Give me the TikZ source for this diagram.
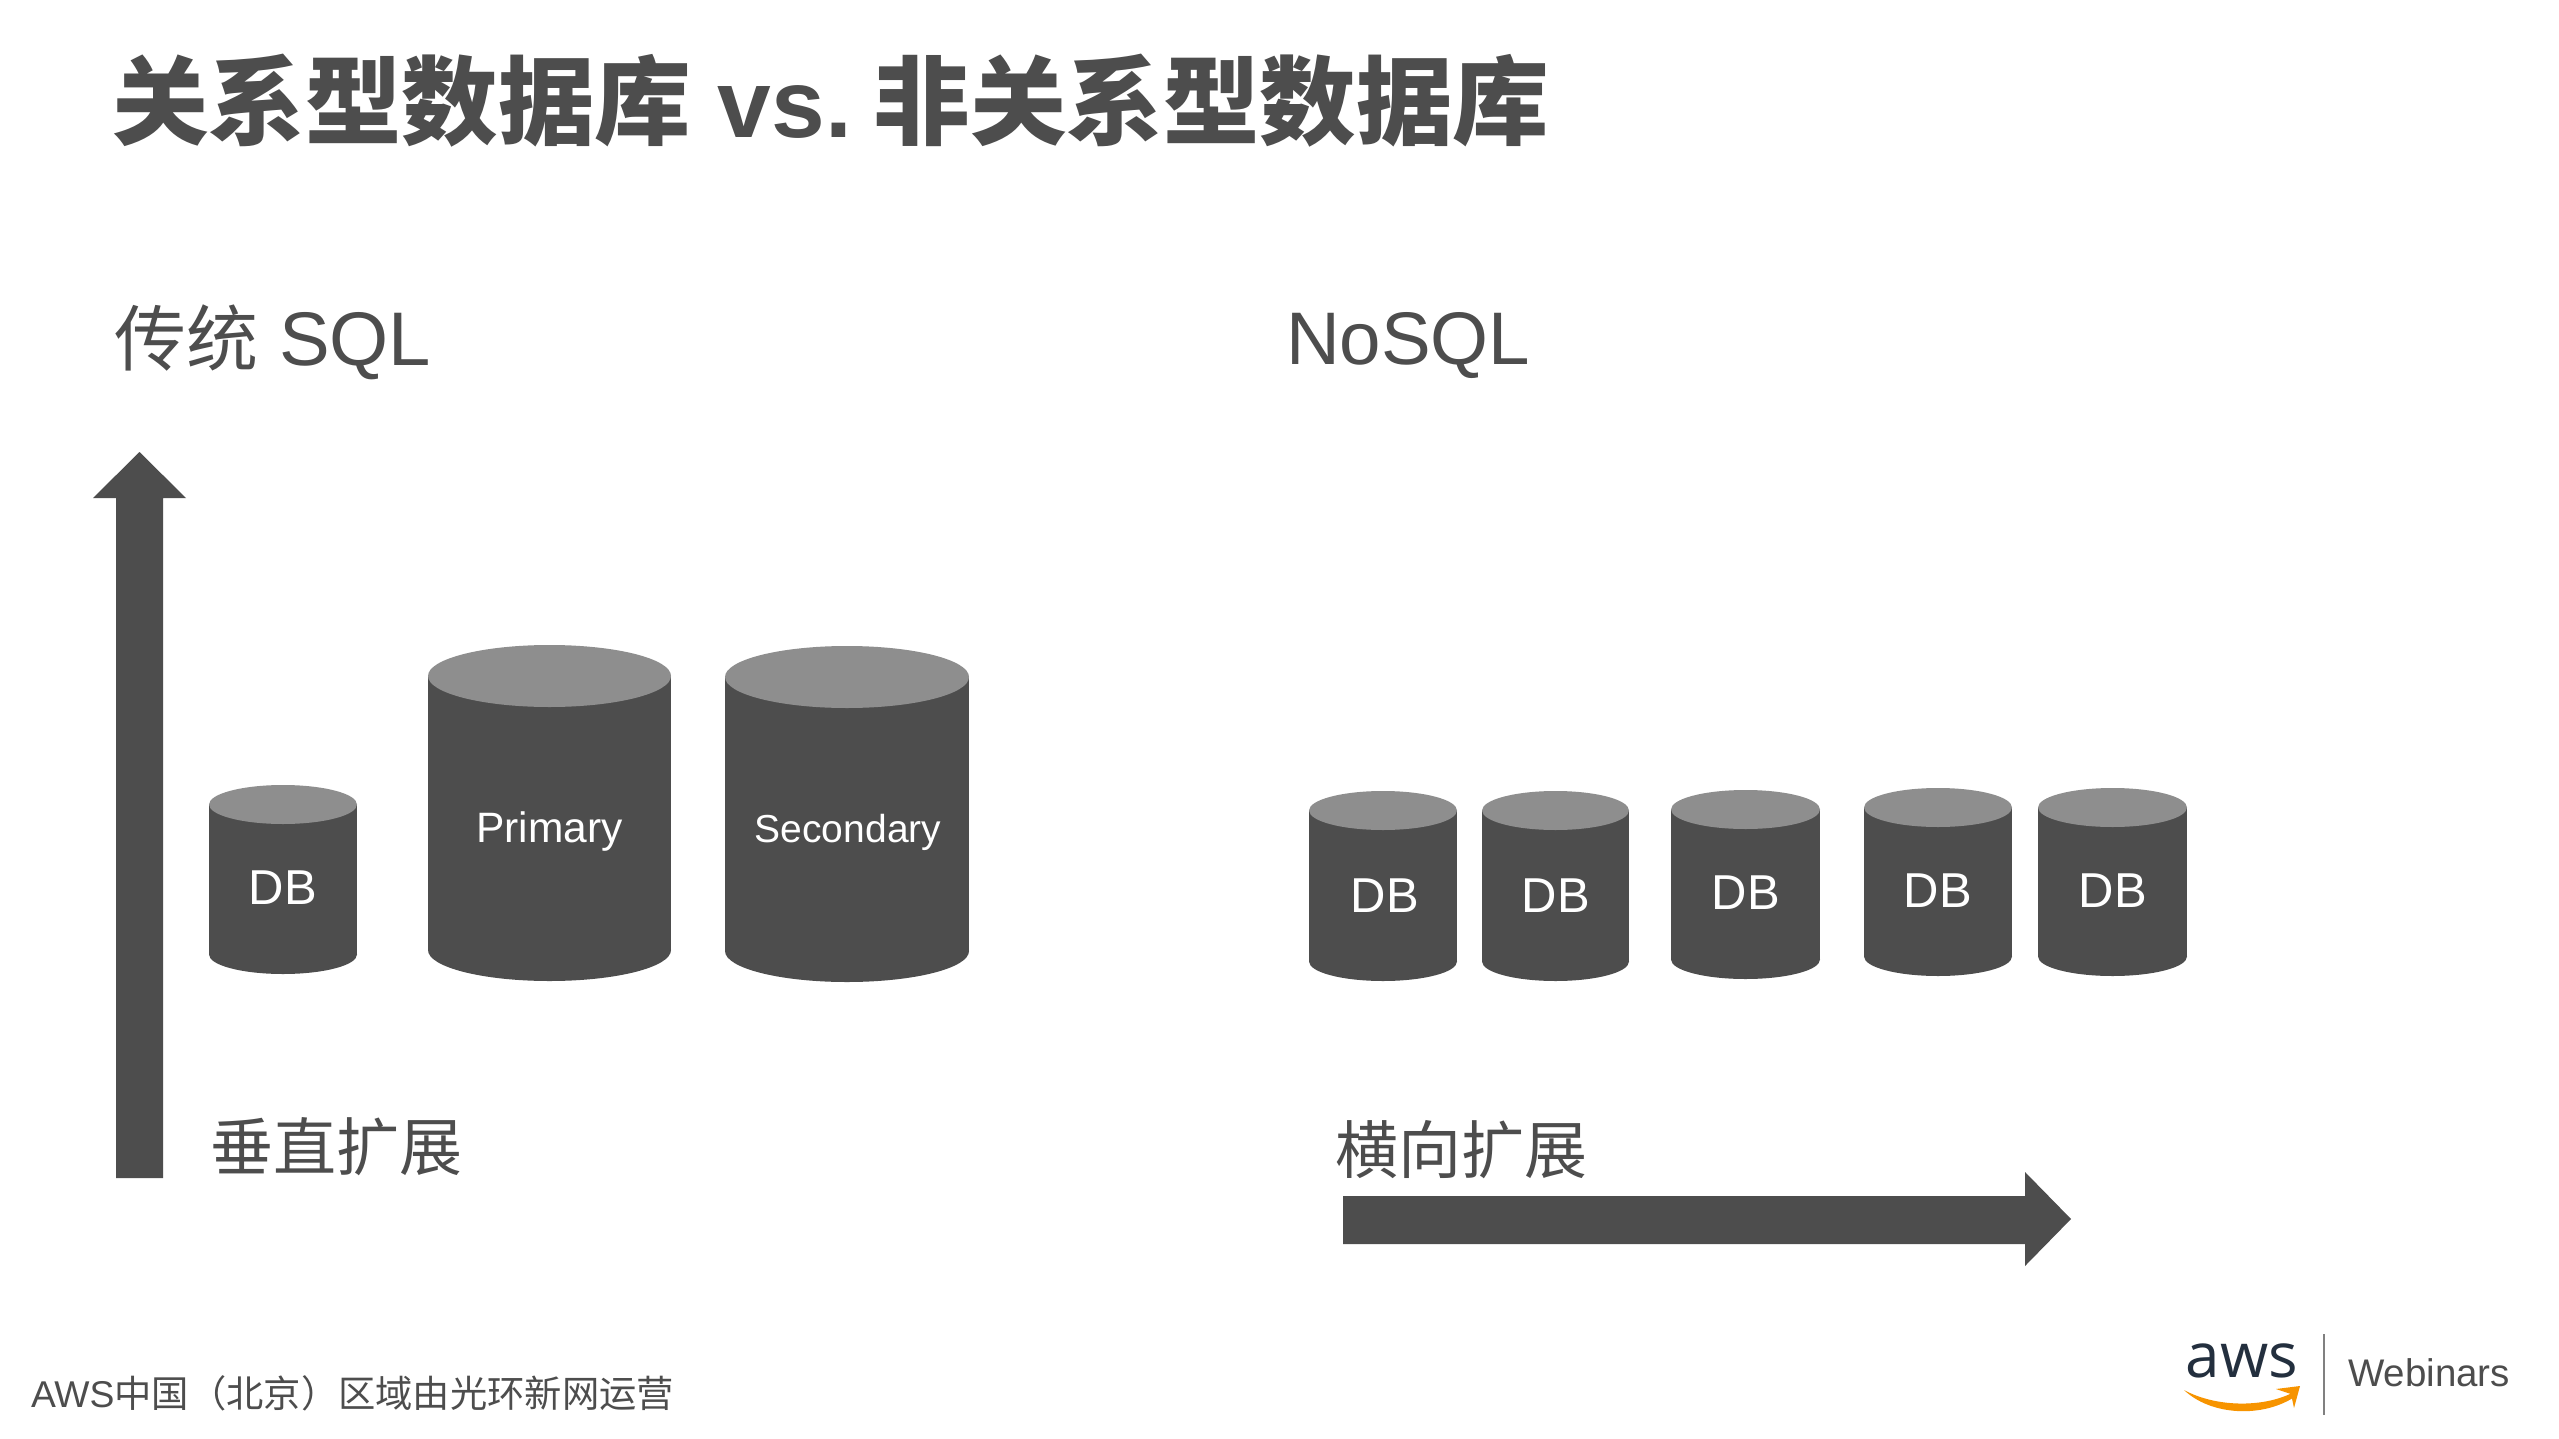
\documentclass[tikz,border=0pt]{standalone}
\usepackage{fontspec}
\setmainfont{Liberation Sans}
\newfontfamily\cjk{Noto Sans CJK SC}
\newfontfamily\logofont{Open Sans}
\definecolor{ink}{HTML}{4D4D4D}
\definecolor{lid}{HTML}{8E8E8E}
\definecolor{awsnavy}{HTML}{232F3E}
\definecolor{awsorange}{HTML}{F79400}
\newcommand{\fsz}[1]{\fontsize{#1}{#1}\selectfont}
\tikzset{
  txt/.style={inner sep=0pt,outer sep=0pt,text=ink,anchor=mid west},
  dblabel/.style={inner sep=0pt,outer sep=0pt,text=white,anchor=mid},
  block/.style={fill=ink,draw=none},
}
% #1 name, #2 x left, #3 x right, #4 top, #5 lid bottom, #6 bottom
\newcommand{\dbcyl}[6]{%
  \pgfmathsetmacro{\cxx}{(#2+#3)/2}%
  \pgfmathsetmacro{\rxx}{(#3-#2)/2}%
  \pgfmathsetmacro{\ryy}{(#5-#4)/2}%
  \pgfmathsetmacro{\cyy}{(#5+#4)/2}%
  \pgfmathsetmacro{\byy}{#6-\ryy}%
  \fill[ink] (#2,\cyy) rectangle (#3,\byy);
  \fill[ink] (\cxx,\byy) ellipse[x radius=\rxx,y radius=\ryy];
  \fill[lid] (\cxx,\cyy) ellipse[x radius=\rxx,y radius=\ryy];
  \coordinate (#1) at (\cxx,\cyy);
}
\begin{document}
\begin{tikzpicture}[x=1pt,y=-1pt]
\useasboundingbox (0,0) rectangle (2559,1439);
\fill[white] (0,0) rectangle (2559,1439);

\node[txt,font=\fsz{96.5}\bfseries] (title) at (112,135) {{\cjk\bfseries 关系型数据库} vs.\hspace{-14pt} {\cjk\bfseries 非关系型数据库}};
\node[txt,font=\fsz{76}] (sql) at (114,363) {{\cjk\fsz{72}传统} SQL};
\node[txt,font=\fsz{74.5}] (nosql) at (1286,362) {NoSQL};

% vertical scale arrow
\fill[block] (116,1178) -- (116,498) -- (93,498) -- (139.5,452) -- (186,498) -- (163,498) -- (163,1178) -- cycle;
% horizontal scale arrow
\fill[block] (1343,1196) -- (2025,1196) -- (2025,1172) -- (2071,1219) -- (2025,1266) -- (2025,1244) -- (1343,1244) -- cycle;

\dbcyl{c1}{209}{357}{785}{824}{974}
\dbcyl{c2}{428}{671}{645}{707}{981}
\dbcyl{c3}{725}{969}{646}{708}{982}
\node[dblabel,font=\fsz{49}] (l1) at (283,902) {DB};
\node[dblabel,font=\fsz{42.5}] (l2) at (549.5,840) {Primary};
\node[dblabel,font=\fsz{39}] (l3) at (848,840) {Secondary};

\dbcyl{d1}{1309}{1457}{791}{830}{981}
\dbcyl{d2}{1482}{1629}{791}{830}{981}
\dbcyl{d3}{1671}{1820}{790}{829}{979}
\dbcyl{d4}{1864}{2012}{788}{827}{976}
\dbcyl{d5}{2038}{2187}{788}{827}{976}
\node[dblabel,font=\fsz{49}] (m1) at (1385,910) {DB};
\node[dblabel,font=\fsz{49}] (m2) at (1556,910) {DB};
\node[dblabel,font=\fsz{49}] (m3) at (1746,907) {DB};
\node[dblabel,font=\fsz{49}] (m4) at (1938,905) {DB};
\node[dblabel,font=\fsz{49}] (m5) at (2113,905) {DB};

\node[txt,font=\fsz{63}\cjk] (vs) at (210,1168) {垂直扩展};
\node[txt,font=\fsz{63}\cjk] (hs) at (1335,1171) {横向扩展};
\node[txt,font=\fsz{37.3}] (foot) at (31,1405) {AWS{\cjk 中国（北京）区域由光环新网运营}};

% logo
\node[inner sep=0pt,outer sep=0pt,text=awsnavy,anchor=mid,font=\fsz{62}\logofont] (aws) at (2242,1375) {aws};
\draw[line width=2.5pt,color=gray] (2324,1334) -- (2324,1415);
\node[inner sep=0pt,outer sep=0pt,text=ink,anchor=mid west,font=\fsz{38.5}] (web) at (2348,1384) {Webinars};
\fill[awsorange] (2184,1390) .. controls (2210,1415) and (2262,1419) .. (2296,1396) -- (2292,1393) .. controls (2262,1408) and (2215,1407) .. cycle;
\fill[awsorange] (2276,1389) -- (2300,1386) -- (2294,1408) -- (2291,1394) -- cycle;
\end{tikzpicture}
\end{document}
